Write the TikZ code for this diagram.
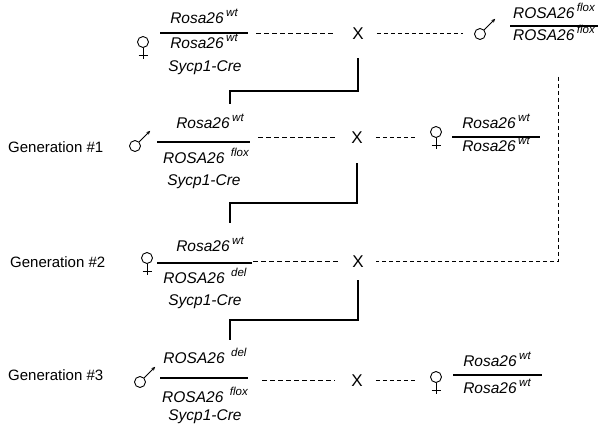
\documentclass[tikz,border=0pt]{standalone}
\usepackage{fontspec}
\setsansfont{Liberation Sans}
\usetikzlibrary{arrows.meta}
\newcommand\sups[1]{\hspace{2.5pt}\raisebox{0.5em}{\fontsize{11.5}{12}\selectfont #1}}
\begin{document}
\begin{tikzpicture}[x=1pt,y=-1pt,
  allele/.style={font=\sffamily\itshape\fontsize{15.5}{17}\selectfont, inner sep=0pt, text height=11pt, text depth=3pt},
  gen/.style={font=\sffamily\fontsize{15}{17}\selectfont, inner sep=0pt, anchor=west},
  crossn/.style={font=\sffamily\fontsize{17}{17}\selectfont, inner sep=0pt},
  bar/.style={line width=1.1pt},
  sym/.style={circle, draw, line width=0.9pt, minimum size=11pt, inner sep=0pt},
  malearrow/.style={line width=1pt, -{Stealth[length=4pt,width=3.5pt]}},
  femleg/.style={line width=0.9pt},
  link/.style={line width=1.1pt},
  dashl/.style={line width=1pt, dash pattern=on 5pt off 3pt},
  dashr/.style={line width=1pt, dash pattern=on 4.5pt off 2.5pt},
]
\useasboundingbox (0,0) rectangle (600,427);

% ---------- Row 1 (parents) ----------
\node[sym] (f0) at (143,42) {};
\draw[femleg] (f0.south) -- ++(0,11);
\draw[femleg] ([shift={(-4.5,8)}]f0.south) -- ([shift={(4.5,8)}]f0.south);
\node[allele] (a0n) at (204,20) {Rosa26\sups{wt}};
\draw[bar] (160,33) coordinate (b0l) -- (248,33) coordinate (b0r);
\node[allele] (a0d) at (204,45) {Rosa26\sups{wt}};
\node[allele] (c0) at (205,68) {Sycp1-Cre};
\node[crossn] (x1) at (358,34) {X};
\node[sym] (m1) at (480,34) {};
\draw[malearrow] (m1.45) -- ++(11,-11);
\node[allele] (r1n) at (554,15) {ROSA26\sups{flox}};
\draw[bar] (510,26) coordinate (r1l) -- (598,26) coordinate (r1r);
\node[allele] (r1d) at (554,37) {ROSA26\sups{flox}};
\coordinate (rv) at (558,77);
\draw[dashl, shorten <=8pt, shorten >=19pt] (b0r |- x1) -- (x1);
\draw[dashr, shorten <=13pt, shorten >=17pt] (x1) -- (x1 -| m1.center);

% ---------- Row 2 (Generation #1) ----------
\node[gen] (g1) at (8,147) {Generation \#1};
\node[sym] (m2) at (135,146) {};
\draw[malearrow] (m2.45) -- ++(11,-11);
\node[allele] (a1n) at (210,125) {Rosa26\sups{wt}};
\draw[bar] (157,142) coordinate (b1l) -- (250,142) coordinate (b1r);
\node[allele] (a1d) at (206,160) {ROSA26\hspace{4pt}\sups{flox}};
\node[allele] (c1) at (204,182) {Sycp1-Cre};
\node[crossn] (x2) at (357,138) {X};
\node[sym] (f2) at (436,132) {};
\draw[femleg] (f2.south) -- ++(0,11);
\draw[femleg] ([shift={(-4.5,8)}]f2.south) -- ([shift={(4.5,8)}]f2.south);
\node[allele] (r2n) at (496,125) {Rosa26\sups{wt}};
\draw[bar] (452,137) coordinate (r2l) -- (540,137) coordinate (r2r);
\node[allele] (r2d) at (496,148) {Rosa26\sups{wt}};
\draw[dashl, shorten <=8pt, shorten >=14pt] (b1r |- x2) -- (x2);
\draw[dashr, shorten <=13pt, shorten >=19pt] (x2) -- (x2 -| f2.center);

% ---------- Row 3 (Generation #2) ----------
\node[gen] (g2) at (10,262) {Generation \#2};
\node[sym] (f3) at (147,258) {};
\draw[femleg] (f3.south) -- ++(0,11);
\draw[femleg] ([shift={(-4.5,8)}]f3.south) -- ([shift={(4.5,8)}]f3.south);
\node[allele] (a2n) at (210,248) {Rosa26\sups{wt}};
\draw[bar] (157,263) coordinate (b2l) -- (252,263) coordinate (b2r);
\node[allele] (a2d) at (205,280) {ROSA26\hspace{4pt}\sups{del}};
\node[allele] (c2) at (205,302) {Sycp1-Cre};
\node[crossn] (x3) at (358,262) {X};
\draw[dashl, shorten <=1pt, shorten >=14pt] (b2r |- x3) -- (x3);
\draw[dashr, shorten >=12pt] (rv) |- (x3);

% ---------- Row 4 (Generation #3) ----------
\node[gen] (g3) at (8,375) {Generation \#3};
\node[sym] (m4) at (140,382) {};
\draw[malearrow] (m4.45) -- ++(11,-11);
\node[allele] (a3n) at (205,360) {ROSA26\hspace{4pt}\sups{del}};
\draw[bar] (160,378) coordinate (b3l) -- (248,378) coordinate (b3r);
\node[allele] (a3d) at (205,399) {ROSA26\hspace{4pt}\sups{flox}};
\node[allele] (c3) at (205,417) {Sycp1-Cre};
\node[crossn] (x4) at (357,381) {X};
\node[sym] (f4) at (436,377) {};
\draw[femleg] (f4.south) -- ++(0,11);
\draw[femleg] ([shift={(-4.5,8)}]f4.south) -- ([shift={(4.5,8)}]f4.south);
\node[allele] (r4n) at (497,363) {Rosa26\sups{wt}};
\draw[bar] (453,375) coordinate (r4l) -- (542,375) coordinate (r4r);
\node[allele] (r4d) at (497,390) {Rosa26\sups{wt}};
\draw[dashl, shorten <=14pt, shorten >=17pt] (b3r |- x4) -- (x4);
\draw[dashr, shorten <=13pt, shorten >=21pt] (x4) -- (x4 -| f4.center);

% ---------- Solid descent connectors ----------
\coordinate (k1) at (358,91);  \coordinate (t2) at (230,104);
\coordinate (k2) at (357,203); \coordinate (t3) at (230,223);
\coordinate (k3) at (358,320); \coordinate (t4) at (230,340);
\draw[link, shorten <=18pt] (x1.south) -- (k1) -| (t2);
\draw[link, shorten <=19pt] (x2.south) -- (k2) -| (t3);
\draw[link, shorten <=12pt] (x3.south) -- (k3) -| (t4);
\end{tikzpicture}
\end{document}
